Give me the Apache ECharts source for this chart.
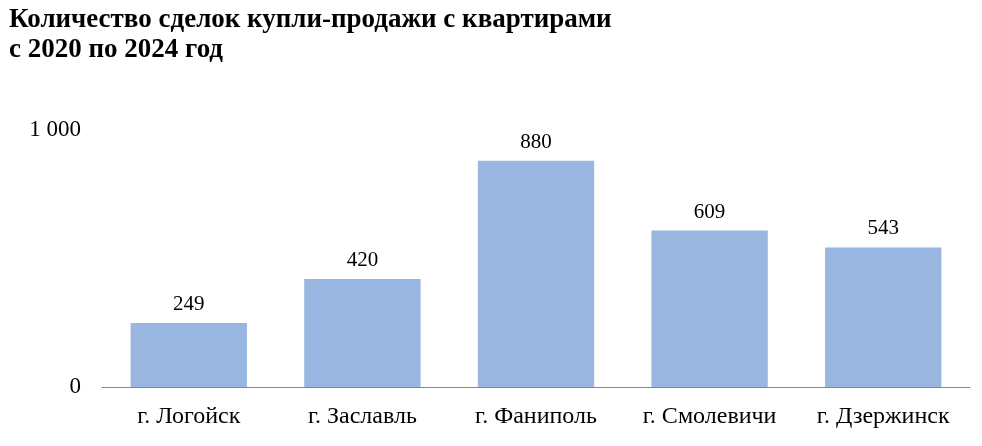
<!DOCTYPE html>
<html><head><meta charset="utf-8">
<script src="https://cdn.jsdelivr.net/npm/echarts@6/dist/echarts.min.js"></script>
<style>html,body{margin:0;padding:0;background:#fff}#c{width:982px;height:446px}</style>
</head><body><div id="c"></div>
<script>
const categories = ['г. Логойск', 'г. Заславль', 'г. Фаниполь', 'г. Смолевичи', 'г. Дзержинск'];
const deals = [249, 420, 880, 609, 543];
const titleText = 'Количество сделок купли-продажи с квартирами\nс 2020 по 2024 год';
const FONT = '"Liberation Serif", "Times New Roman", serif';
const chart = echarts.init(document.getElementById('c'));
chart.setOption({
  animation: false,
  title: {
    text: titleText, left: 4, top: 0,
    textStyle: { fontFamily: FONT, fontSize: 27, fontWeight: 'bold', color: '#000', lineHeight: 30 }
  },
  grid: { left: 102, right: 12, top: 130, bottom: 59 },
  xAxis: {
    type: 'category', data: categories,
    axisLine: { lineStyle: { color: '#868686', width: 1 } },
    axisTick: { show: false },
    axisLabel: { interval: 0, fontFamily: FONT, fontSize: 24, color: '#000', margin: 18 }
  },
  yAxis: {
    type: 'value', min: 0, max: 1000, interval: 1000,
    splitLine: { show: false },
    axisLine: { show: false }, axisTick: { show: false },
    axisLabel: {
      fontFamily: FONT, fontSize: 23, color: '#000', margin: 21,
      formatter: v => v === 1000 ? '1 000' : String(v)
    }
  },
  series: [{
    type: 'bar', data: deals, barCategoryGap: '33%',
    itemStyle: { color: '#98B6DF' },
    label: { show: true, position: 'top', distance: 8, fontFamily: FONT, fontSize: 21, color: '#000' }
  }]
});
</script></body></html>
